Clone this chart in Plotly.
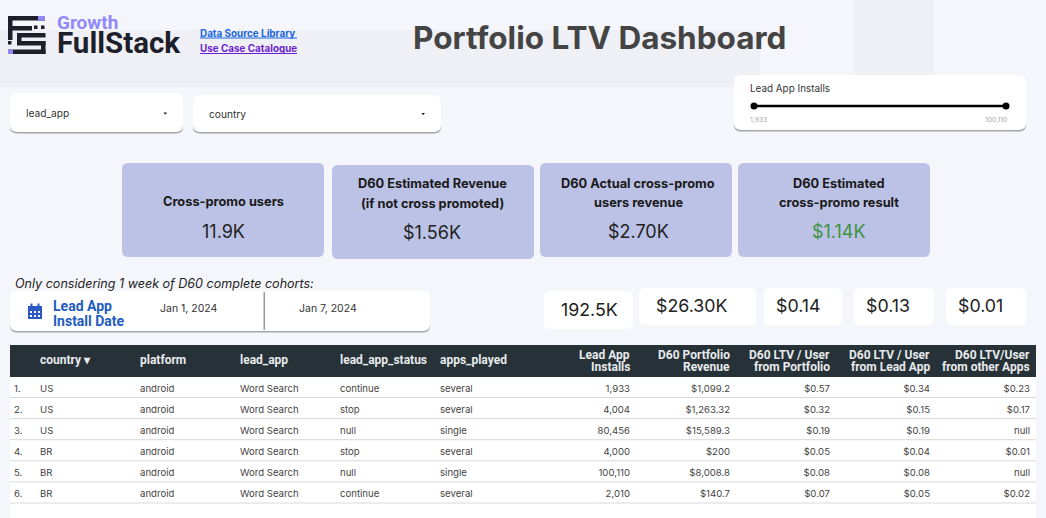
import plotly.graph_objects as go

# ---------- data ----------
row_no = ["1.", "2.", "3.", "4.", "5.", "6."]
country = ["US", "US", "US", "BR", "BR", "BR"]
platform = ["android"] * 6
lead_app = ["Word Search"] * 6
lead_status = ["continue", "stop", "null", "stop", "null", "continue"]
apps_played = ["several", "several", "single", "several", "single", "several"]
installs = ["1,933", "4,004", "80,456", "4,000", "100,110", "2,010"]
revenue = ["$1,099.2", "$1,263.32", "$15,589.3", "$200", "$8,008.8", "$140.7"]
ltv_portfolio = ["$0.57", "$0.32", "$0.19", "$0.05", "$0.08", "$0.07"]
ltv_lead = ["$0.34", "$0.15", "$0.19", "$0.04", "$0.08", "$0.05"]
ltv_other = ["$0.23", "$0.17", "null", "$0.01", "null", "$0.02"]
left_headers = ["", "country ▾", "platform", "lead_app", "lead_app_status", "apps_played"]
right_headers = [("Lead App", "Installs"), ("D60 Portfolio", "Revenue"), ("D60 LTV / User", "from Portfolio"),
                 ("D60 LTV / User", "from Lead App"), ("D60 LTV/User", "from other Apps")]
slider_range = [1933, 100110]

BODY = "Inter"
BG = "#f5f6fb"
BAND = "#eff0f6"
CARD = "#bcc2e6"
W, H = 1046, 518

shapes = []
ann = []


def rrect(x0, y0, x1, y1, r, fill, layer="below"):
    path = (f"M{x0+r},{y0} L{x1-r},{y0} Q{x1},{y0} {x1},{y0+r} L{x1},{y1-r} Q{x1},{y1} {x1-r},{y1} "
            f"L{x0+r},{y1} Q{x0},{y1} {x0},{y1-r} L{x0},{y0+r} Q{x0},{y0} {x0+r},{y0} Z")
    shapes.append(dict(type="path", path=path, fillcolor=fill, line_width=0, xref="x", yref="y", layer=layer))


def rect(x0, y0, x1, y1, fill, layer="below"):
    shapes.append(dict(type="rect", x0=x0, y0=y0, x1=x1, y1=y1, fillcolor=fill, line_width=0,
                       xref="x", yref="y", layer=layer))


def text(x, y, s, size, color="#222222", anchor="left", font=BODY):
    ann.append(dict(x=x, y=y, text=s, xref="x", yref="y", showarrow=False, xanchor=anchor, yanchor="middle",
                    borderpad=0, borderwidth=0, align={"left": "left", "center": "center", "right": "right"}[anchor],
                    font=dict(size=size, color=color, family=font)))


def widget(x0, y0, x1, y1, r=7):
    rrect(x0, y0 + 1.5, x1, y1 + 1.5, r, "#a6a6a6")
    rrect(x0, y0, x1, y1, r, "#ffffff")


# background bands
rect(0, 30, 760, 87, BAND)
rect(854, 0, 934, 75, BAND)

# logo
LOGO = "#1d1f2b"
PURPLE = "#9189fb"
rect(8, 16, 45, 20.5, LOGO)
rect(8, 16, 12.5, 40, LOGO)
rect(8, 26, 32, 30.5, LOGO)
rect(38, 16, 45, 20.5, PURPLE)
rect(34, 25.5, 37.5, 29, LOGO)
rect(41, 25.5, 44.5, 29, LOGO)
rect(17, 33, 45.5, 37.5, LOGO)
rect(17, 33, 21.5, 44, LOGO)
rect(17, 41, 45.5, 45.5, LOGO)
rect(41, 41, 45.5, 54, LOGO)
rect(8, 49.5, 45.5, 54, LOGO)
rect(8, 49.5, 13, 54, PURPLE)
rect(8, 41, 11.5, 44.5, LOGO)
text(57, 35.5,
     f'<span style="font-size:19px;color:{PURPLE}"><b>Growth</b></span><br>'
     f'<span style="font-size:29.5px"><b>FullStack</b></span>',
     18.5, LOGO, font="Roboto")

# links
text(200, 33, "<b>Data Source Library</b>", 9.9, "#1a67e0")
text(200, 48.5, "<b>Use Case Catalogue</b>", 9.9, "#6d1fd0")
shapes.append(dict(type="line", x0=200, x1=297, y0=38, y1=38, line=dict(color="#1a67e0", width=1), xref="x", yref="y"))
shapes.append(dict(type="line", x0=200, x1=297, y0=53.5, y1=53.5, line=dict(color="#6d1fd0", width=1), xref="x", yref="y"))

# title
text(413, 37, "<b>Portfolio LTV Dashboard</b>", 31.5, "#444444")

# dropdowns
widget(10, 93, 183, 132)
widget(193, 95, 441, 132)
text(26, 113, "lead_app", 10.2, "#333333")
text(209, 114, "country", 10.2, "#333333")
shapes.append(dict(type="path", path="M163.5,112.5 L167,112.5 L165.2,114.8 Z", fillcolor="#222222", line_width=0, xref="x", yref="y"))
shapes.append(dict(type="path", path="M421.5,113 L425,113 L423.2,115.3 Z", fillcolor="#222222", line_width=0, xref="x", yref="y"))

# slider card
widget(734, 75, 1026, 130)
text(750, 88, "Lead App Installs", 9.9, "#333333")
text(750, 119.5, f"{slider_range[0]:,}", 6.8, "#a6a6a6")
text(1007, 119.5, f"{slider_range[1]:,}", 6.8, "#a6a6a6", anchor="right")

# KPI cards
cards = [
    (122, 163, 324, 257, 223, ["Cross-promo users"], [201], "11.9K", 231, "#222222"),
    (332, 165, 534, 259, 432, ["D60 Estimated Revenue", "(if not cross promoted)"], [183, 203], "$1.56K", 232, "#222222"),
    (540, 163, 732, 257, 638, ["D60 Actual cross-promo", "users revenue"], [183, 202], "$2.70K", 231, "#222222"),
    (738, 163, 930, 257, 839, ["D60 Estimated", "cross-promo result"], [183, 202], "$1.14K", 231, "#3f9142"),
]
for x0, y0, x1, y1, cx, labels, ys, val, vy, col in cards:
    rrect(x0, y0, x1, y1, 6, CARD)
    for l, y in zip(labels, ys):
        text(cx, y, f"<b>{l}</b>", 12.8, "#1a1a1a", anchor="center")
    text(cx, vy, val, 18, col, anchor="center")

# date range
text(15, 283, "<i>Only considering 1 week of D60 complete cohorts:</i>", 12.55, "#222222")
widget(10, 291, 430, 331)
rect(263.5, 292, 265, 330, "#9a9a9a")
BLUE = "#2a56c6"
rect(28, 306, 42, 319, BLUE)
rect(30.5, 303.5, 32.5, 307, BLUE)
rect(37.5, 303.5, 39.5, 307, BLUE)
for cx in (30, 34, 38):
    for cy in (311, 315):
        rect(cx, cy, cx + 2, cy + 2, "#ffffff")
text(53, 306, "<b>Lead App</b>", 14, "#1f5cc0", font="Roboto")
text(53, 321, "<b>Install Date</b>", 14, "#1f5cc0", font="Roboto")
text(160, 308.5, "Jan 1, 2024", 10.5, "#333333")
text(299, 308.5, "Jan 7, 2024", 10.5, "#333333")

# summary tiles
tiles = [(544, 291, 633, 329, "192.5K", 589, 309),
         (639, 288, 756, 325, "$26.30K", 692, 305),
         (764, 288, 842, 325, "$0.14", 798, 305),
         (854, 288, 934, 325, "$0.13", 888, 305),
         (946, 288, 1026, 325, "$0.01", 980, 305)]
for x0, y0, x1, y1, val, cx, cy in tiles:
    rrect(x0, y0, x1, y1, 6, "#ffffff")
    text(cx, cy, val, 17.8, "#222222", anchor="center")

# white panel behind the table
rect(10, 377, 1036, 518, "#ffffff")

# table mask edges and row rules (above the table)
rect(0, 340, 10, 518, BG, layer="above")
rect(1036, 340, 1046, 518, BG, layer="above")
for i in range(6):
    y = 397.5 + i * 21.1
    shapes.append(dict(type="line", x0=10, x1=1036, y0=y, y1=y, line=dict(color="#d9d9d9", width=1),
                       xref="x", yref="y", layer="above"))

columns = [row_no, country, platform, lead_app, lead_status, apps_played,
           installs, revenue, ltv_portfolio, ltv_lead, ltv_other]
bounds = [6, 32, 132, 232, 332, 432, 538, 638, 738, 838, 938, 1038]
widths = [bounds[i + 1] - bounds[i] for i in range(len(bounds) - 1)]
aligns = ["left"] * 6 + ["right"] * 5
HEAD_COLOR = "#e8eaec"

table = go.Table(
    domain=dict(x=[bounds[0] / W, bounds[-1] / W], y=[1 - 515 / H, 1 - 345 / H]),
    columnwidth=widths,
    header=dict(values=[f"<b>{h}</b>" if h else "" for h in left_headers] + [""] * len(right_headers),
                height=32, align=aligns,
                fill_color="#263238", line=dict(width=0, color="#263238"),
                font=dict(family="Roboto", size=12, color=HEAD_COLOR)),
    cells=dict(values=columns, height=21, align=aligns, fill_color="#ffffff",
               line=dict(width=0, color="#ffffff"),
               font=dict(family=BODY, size=9.6, color="#444444")),
)

# two-line headers of the numeric columns
for (a, b), edge in zip(right_headers, bounds[7:]):
    text(edge - 8, 355, f"<b>{a}</b>", 12, HEAD_COLOR, anchor="right", font="Roboto")
    text(edge - 8, 367, f"<b>{b}</b>", 12, HEAD_COLOR, anchor="right", font="Roboto")

slider = go.Scatter(x=slider_range, y=[0, 0], mode="lines+markers", xaxis="x2", yaxis="y2", cliponaxis=False,
                    line=dict(color="#000000", width=2.5), marker=dict(color="#000000", size=7),
                    hoverinfo="skip", showlegend=False)

fig = go.Figure([table, slider])
fig.update_layout(
    width=W, height=H, margin=dict(l=0, r=0, t=0, b=0), paper_bgcolor=BG, plot_bgcolor="rgba(0,0,0,0)",
    showlegend=False, shapes=shapes, annotations=ann,
    xaxis=dict(range=[0, W], visible=False, fixedrange=True, domain=[0, 1]),
    yaxis=dict(range=[H, 0], visible=False, fixedrange=True, domain=[0, 1]),
    xaxis2=dict(range=slider_range, domain=[754 / W, 1006 / W], visible=False, anchor="y2"),
    yaxis2=dict(range=[-1, 1], domain=[1 - 116 / H, 1 - 96 / H], visible=False, anchor="x2"),
)
fig.add_trace(go.Scatter(x=[0], y=[0], mode="markers", marker=dict(opacity=0), hoverinfo="skip", showlegend=False))
fig.write_html("out.html", config={"displayModeBar": False},
               post_script="document.body.style.margin='0';document.documentElement.style.overflow='hidden';")
